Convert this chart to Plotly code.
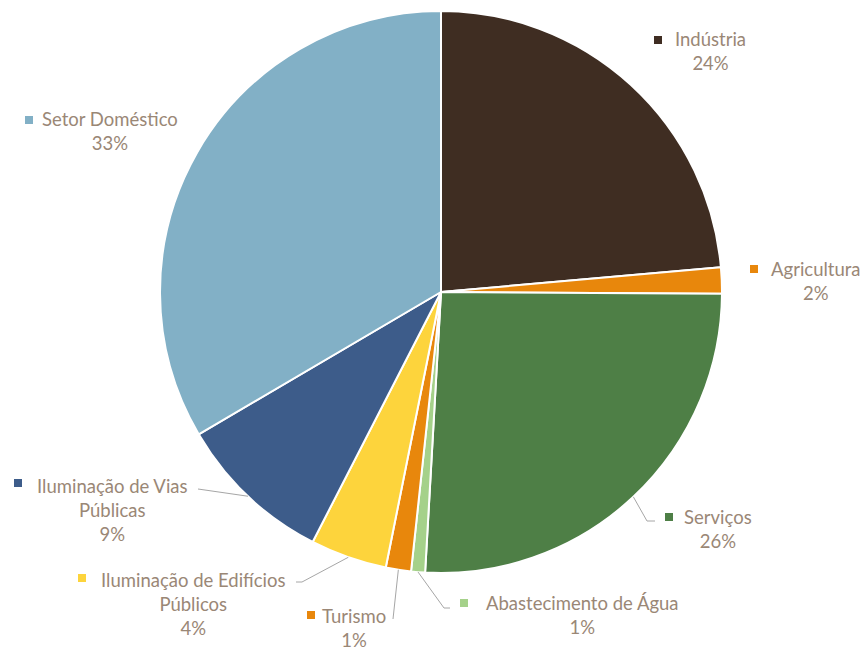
import math
import plotly.graph_objects as go

# ---- data ----
categories = ["Indústria", "Agricultura", "Serviços", "Abastecimento de Água",
              "Turismo", "Iluminação de Edifícios Públicos",
              "Iluminação de Vias Públicas", "Setor Doméstico"]
label_lines = ["Indústria", "Agricultura", "Serviços", "Abastecimento de Água",
               "Turismo", "Iluminação de Edifícios<br>Públicos",
               "Iluminação de Vias<br>Públicas", "Setor Doméstico"]
values = [23.6, 1.5, 25.8, 0.8, 1.45, 4.4, 9.0, 33.45]
colors = ["#3F2D22", "#E8870C", "#4E7F46", "#A5D18A",
          "#E8870C", "#FDD43C", "#3D5C8A", "#82B0C6"]

W, H = 864, 650
CX, CY, R = 441, 292, 281
TEXT_COLOR = "#9A8776"
FONT = "Lato"
FSIZE = 18.5

def px(x):
    return x / W

def py(y):
    return 1 - y / H

# label layout (pixel positions): text centre x, first line centre y, square x, square y
label_pos = [(710, 40, 658, 40), (816, 270, 754, 269), (718, 518, 669, 517),
             (582, 604, 464, 603), (354, 617, 311, 615), (193, 581, 82, 578),
             (112, 487, 18, 483), (110, 120, 29, 120)]
# leader line label-side points (None = no leader)
leader_pts = [None, None, [(647, 521), (655, 521)], [(444, 608), (450, 608)],
              [(393, 619)], [(302, 582), (296, 582)], [(198, 489)], None]

fig = go.Figure(go.Pie(
    values=values, labels=categories, sort=False, direction="clockwise",
    rotation=0, textinfo="none", hoverinfo="label+percent",
    marker=dict(colors=colors, line=dict(color="white", width=2)),
    domain=dict(x=[px(CX - R), px(CX + R)], y=[py(CY + R), py(CY - R)]),
    showlegend=False,
))

total = sum(values)
annotations = []
shapes = []
cum = 0.0
for i, v in enumerate(values):
    mid = (cum + v / 2) / total * 2 * math.pi
    cum += v
    tx, ty, sx, sy = label_pos[i]
    pct = round(v / total * 100)
    annotations.append(dict(
        x=px(tx), y=py(ty - 14), xref="paper", yref="paper",
        xanchor="center", yanchor="top", showarrow=False,
        text=f"{label_lines[i]}<br>{pct}%",
        font=dict(family=FONT, size=FSIZE, color=TEXT_COLOR),
    ))
    shapes.append(dict(type="rect", xref="paper", yref="paper",
                       x0=px(sx - 4), x1=px(sx + 4), y0=py(sy + 4), y1=py(sy - 4),
                       fillcolor=colors[i], line=dict(width=0)))
    if leader_pts[i]:
        pts = [(CX + R * math.sin(mid), CY - R * math.cos(mid))] + leader_pts[i]
        path = "M " + " L ".join(f"{px(x)},{py(y)}" for x, y in pts)
        shapes.append(dict(type="path", xref="paper", yref="paper", path=path,
                           line=dict(color="#A6A6A6", width=1)))

fig.update_layout(
    width=W, height=H, margin=dict(l=0, r=0, t=0, b=0),
    paper_bgcolor="white", plot_bgcolor="white",
    annotations=annotations, shapes=shapes,
)
fig.write_html("out.html", config={"displayModeBar": False},
               post_script="document.body.style.margin='0';document.body.style.overflow='hidden';")
